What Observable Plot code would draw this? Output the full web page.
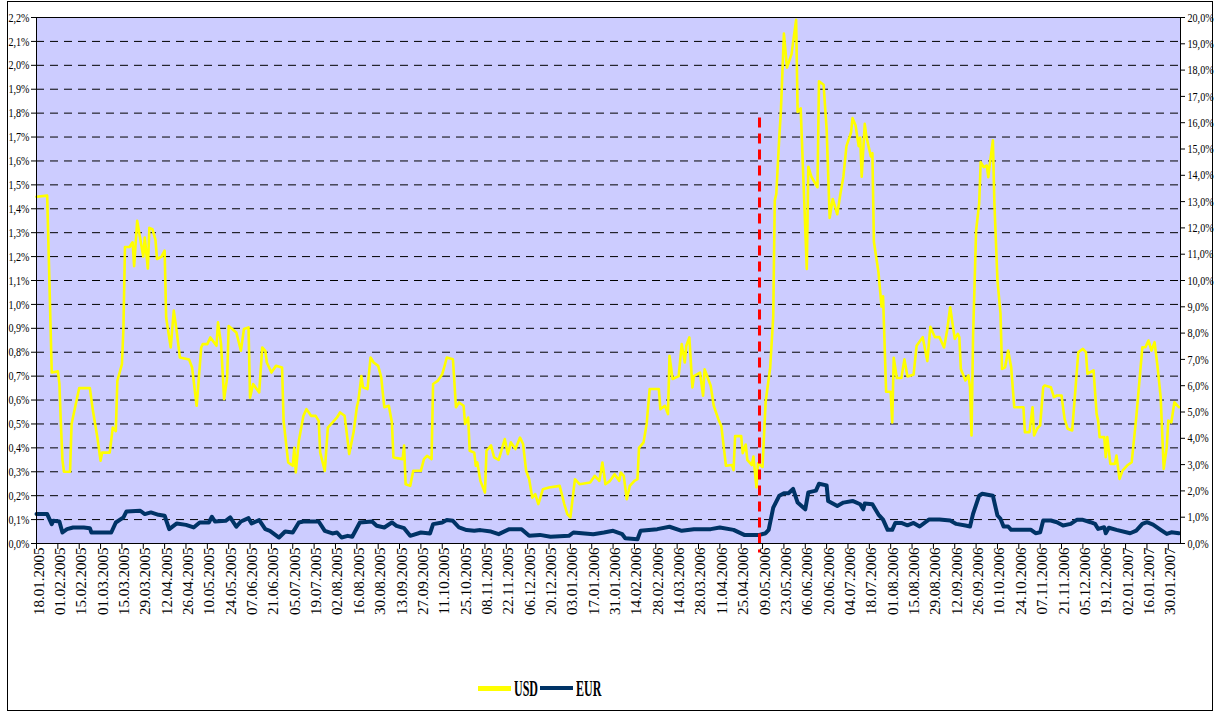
<!DOCTYPE html>
<html><head><meta charset="utf-8">
<script src="https://cdn.jsdelivr.net/npm/d3@7"></script>
<script src="https://cdn.jsdelivr.net/npm/@observablehq/plot@0.6"></script>
<style>
html,body{margin:0;padding:0;background:#fff;}
#wrap{position:relative;width:1218px;height:713px;overflow:hidden;font-family:"Liberation Serif","Times New Roman",serif;}
#frame{position:absolute;left:7px;top:1px;width:1206px;height:710px;border:1px solid #000;box-sizing:border-box;}
#chart{position:absolute;left:0;top:0;}
.lg{position:absolute;}
.lgt{position:absolute;font-weight:bold;font-size:24px;line-height:24px;transform:scaleX(0.5);transform-origin:0 0;white-space:nowrap;color:#000;}
g[aria-label="xlabels"] text{letter-spacing:2.4px;}
</style></head>
<body><div id="wrap"><div id="frame"></div><div id="chart"></div>
<div class="lg" style="left:478px;top:686px;width:33px;height:5px;background:#ffff00"></div>
<div class="lgt" style="left:514px;top:676px">USD</div>
<div class="lg" style="left:540px;top:686px;width:33px;height:4px;background:#003366"></div>
<div class="lgt" style="left:576px;top:676px">EUR</div>
</div>
<script>
const seriesNames = ["USD", "EUR"];
const usd = [
["2005-01-18",1.45],["2005-01-25",1.455],["2005-01-28",0.715],["2005-02-01",0.72],["2005-02-02",0.67],["2005-02-03",0.50],["2005-02-04",0.35],["2005-02-05",0.30],["2005-02-09",0.30],["2005-02-10",0.50],["2005-02-11",0.53],["2005-02-15",0.65],["2005-02-22",0.65],["2005-02-24",0.555],["2005-02-27",0.44],["2005-03-01",0.346],["2005-03-02",0.38],["2005-03-07",0.38],["2005-03-09",0.485],["2005-03-11",0.47],["2005-03-12",0.68],["2005-03-15",0.75],["2005-03-16",0.90],["2005-03-17",1.24],["2005-03-20",1.24],["2005-03-22",1.26],["2005-03-23",1.16],["2005-03-25",1.35],["2005-03-29",1.20],["2005-03-30",1.28],["2005-04-01",1.15],["2005-04-02",1.32],["2005-04-04",1.315],["2005-04-06",1.27],["2005-04-07",1.19],["2005-04-10",1.20],["2005-04-12",1.225],["2005-04-13",0.945],["2005-04-16",0.82],["2005-04-18",0.974],["2005-04-20",0.883],["2005-04-22",0.778],["2005-04-28",0.77],["2005-04-30",0.736],["2005-05-03",0.576],["2005-05-06",0.82],["2005-05-07",0.834],["2005-05-10",0.834],["2005-05-12",0.862],["2005-05-16",0.827],["2005-05-17",0.925],["2005-05-19",0.834],["2005-05-21",0.604],["2005-05-23",0.695],["2005-05-24",0.91],["2005-05-29",0.883],["2005-06-01",0.806],["2005-06-03",0.897],["2005-06-06",0.904],["2005-06-07",0.61],["2005-06-09",0.667],["2005-06-13",0.632],["2005-06-15",0.82],["2005-06-17",0.806],["2005-06-18",0.757],["2005-06-21",0.715],["2005-06-24",0.743],["2005-06-28",0.736],["2005-06-29",0.513],["2005-07-02",0.339],["2005-07-05",0.325],["2005-07-06",0.40],["2005-07-07",0.297],["2005-07-09",0.43],["2005-07-12",0.534],["2005-07-14",0.562],["2005-07-17",0.534],["2005-07-20",0.534],["2005-07-22",0.513],["2005-07-23",0.38],["2005-07-26",0.304],["2005-07-28",0.485],["2005-07-31",0.506],["2005-08-03",0.527],["2005-08-05",0.548],["2005-08-08",0.534],["2005-08-10",0.43],["2005-08-11",0.374],["2005-08-14",0.47],["2005-08-16",0.57],["2005-08-17",0.597],["2005-08-19",0.70],["2005-08-20",0.653],["2005-08-23",0.646],["2005-08-25",0.778],["2005-08-27",0.757],["2005-08-30",0.743],["2005-09-01",0.695],["2005-09-03",0.57],["2005-09-06",0.576],["2005-09-08",0.506],["2005-09-09",0.36],["2005-09-15",0.353],["2005-09-16",0.41],["2005-09-17",0.248],["2005-09-20",0.241],["2005-09-22",0.304],["2005-09-27",0.304],["2005-09-29",0.353],["2005-10-01",0.367],["2005-10-04",0.353],["2005-10-05",0.667],["2005-10-08",0.68],["2005-10-11",0.708],["2005-10-12",0.73],["2005-10-14",0.778],["2005-10-18",0.771],["2005-10-20",0.57],["2005-10-22",0.59],["2005-10-25",0.576],["2005-10-26",0.50],["2005-10-28",0.527],["2005-10-29",0.388],["2005-11-01",0.38],["2005-11-02",0.325],["2005-11-03",0.339],["2005-11-05",0.262],["2005-11-08",0.213],["2005-11-09",0.388],["2005-11-12",0.41],["2005-11-14",0.36],["2005-11-17",0.35],["2005-11-21",0.437],["2005-11-23",0.374],["2005-11-25",0.423],["2005-11-28",0.395],["2005-12-01",0.443],["2005-12-03",0.416],["2005-12-05",0.304],["2005-12-07",0.269],["2005-12-09",0.192],["2005-12-11",0.206],["2005-12-13",0.165],["2005-12-16",0.227],["2005-12-20",0.234],["2005-12-27",0.241],["2005-12-30",0.165],
["2006-01-01",0.123],["2006-01-03",0.109],["2006-01-06",0.269],["2006-01-09",0.248],["2006-01-16",0.255],["2006-01-19",0.283],["2006-01-22",0.262],["2006-01-24",0.339],["2006-01-26",0.248],["2006-01-29",0.262],["2006-02-01",0.29],["2006-02-04",0.262],["2006-02-05",0.297],["2006-02-07",0.283],["2006-02-09",0.185],["2006-02-11",0.241],["2006-02-14",0.262],["2006-02-16",0.269],["2006-02-17",0.40],["2006-02-20",0.423],["2006-02-22",0.50],["2006-02-24",0.646],["2006-03-02",0.646],["2006-03-03",0.562],["2006-03-06",0.576],["2006-03-08",0.541],["2006-03-09",0.785],["2006-03-11",0.688],["2006-03-15",0.70],["2006-03-17",0.834],["2006-03-19",0.757],["2006-03-20",0.827],["2006-03-22",0.862],["2006-03-24",0.653],["2006-03-25",0.70],["2006-03-29",0.715],["2006-03-31",0.618],["2006-04-01",0.729],["2006-04-05",0.66],["2006-04-07",0.576],["2006-04-10",0.52],["2006-04-12",0.49],["2006-04-15",0.325],["2006-04-19",0.328],["2006-04-20",0.307],["2006-04-21",0.449],["2006-04-25",0.449],["2006-04-26",0.378],["2006-04-28",0.414],["2006-04-29",0.35],["2006-05-02",0.328],["2006-05-03",0.364],["2006-05-05",0.235],["2006-05-06",0.335],["2006-05-09",0.32],["2006-05-11",0.592],["2006-05-14",0.735],["2006-05-16",0.949],["2006-05-17",1.434],["2006-05-18",1.462],["2006-05-20",1.705],["2006-05-21",1.805],["2006-05-23",2.133],["2006-05-25",1.99],["2006-05-28",2.047],["2006-05-31",2.19],["2006-06-01",1.805],["2006-06-03",1.82],["2006-06-07",1.148],["2006-06-08",1.576],["2006-06-10",1.534],["2006-06-14",1.49],["2006-06-15",1.933],["2006-06-18",1.919],["2006-06-20",1.733],["2006-06-22",1.362],["2006-06-24",1.441],["2006-06-27",1.377],["2006-06-29",1.462],["2006-07-01",1.534],["2006-07-03",1.662],["2006-07-06",1.719],["2006-07-07",1.779],["2006-07-09",1.748],["2006-07-11",1.662],["2006-07-12",1.698],["2006-07-13",1.534],["2006-07-15",1.755],["2006-07-16",1.705],["2006-07-19",1.619],["2006-07-20",1.633],["2006-07-21",1.262],["2006-07-24",1.134],["2006-07-26",0.991],["2006-07-27",1.034],["2006-07-29",0.635],["2006-08-01",0.635],["2006-08-02",0.506],["2006-08-03",0.777],["2006-08-05",0.692],["2006-08-08",0.692],["2006-08-10",0.77],["2006-08-12",0.699],["2006-08-16",0.706],["2006-08-18",0.827],["2006-08-22",0.863],["2006-08-25",0.763],["2006-08-27",0.906],["2006-08-30",0.863],["2006-09-02",0.863],["2006-09-05",0.82],["2006-09-07",0.891],["2006-09-09",0.988],["2006-09-12",0.856],["2006-09-14",0.877],["2006-09-15",0.863],["2006-09-16",0.73],["2006-09-19",0.682],["2006-09-21",0.703],["2006-09-22",0.654],["2006-09-23",0.452],["2006-09-24",0.863],["2006-09-26",1.309],["2006-09-28",1.421],["2006-09-29",1.595],["2006-10-01",1.574],["2006-10-03",1.581],["2006-10-04",1.532],["2006-10-05",1.588],["2006-10-07",1.686],["2006-10-08",1.421],["2006-10-10",1.10],["2006-10-12",0.961],["2006-10-13",0.73],["2006-10-15",0.737],["2006-10-17",0.807],["2006-10-19",0.737],["2006-10-21",0.57],["2006-10-27",0.57],["2006-10-28",0.466],["2006-10-31",0.466],["2006-11-02",0.57],["2006-11-03",0.452],["2006-11-05",0.48],["2006-11-07",0.494],["2006-11-09",0.654],["2006-11-10",0.661],["2006-11-14",0.654],["2006-11-16",0.612],["2006-11-18",0.619],["2006-11-21",0.619],["2006-11-23",0.521],["2006-11-25",0.48],["2006-11-28",0.473],["2006-12-02",0.80],["2006-12-05",0.814],["2006-12-07",0.80],["2006-12-08",0.71],["2006-12-12",0.724],["2006-12-14",0.542],["2006-12-15",0.514],["2006-12-16",0.445],["2006-12-19",0.445],["2006-12-20",0.361],["2006-12-21",0.445],["2006-12-23",0.333],["2006-12-26",0.333],["2006-12-27",0.368],["2006-12-29",0.27],["2006-12-31",0.305],
["2007-01-03",0.326],["2007-01-06",0.34],["2007-01-09",0.528],["2007-01-13",0.821],["2007-01-15",0.821],["2007-01-17",0.849],["2007-01-19",0.807],["2007-01-21",0.842],["2007-01-23",0.737],["2007-01-25",0.612],["2007-01-27",0.312],["2007-01-29",0.403],["2007-01-30",0.514],["2007-02-01",0.507],["2007-02-03",0.591],["2007-02-05",0.577],["2007-02-06",0.57]
];
const eur = [
["2005-01-18",0.123],["2005-01-25",0.123],["2005-01-28",0.081],["2005-01-29",0.095],["2005-02-02",0.092],["2005-02-04",0.046],["2005-02-07",0.06],["2005-02-11",0.067],["2005-02-18",0.067],["2005-02-22",0.064],["2005-02-23",0.046],["2005-03-08",0.046],["2005-03-11",0.088],["2005-03-16",0.109],["2005-03-18",0.134],["2005-03-27",0.137],["2005-03-30",0.123],["2005-04-03",0.13],["2005-04-08",0.12],["2005-04-12",0.116],["2005-04-15",0.06],["2005-04-20",0.084],["2005-04-26",0.078],["2005-05-01",0.067],["2005-05-05",0.088],["2005-05-11",0.088],["2005-05-13",0.112],["2005-05-15",0.092],["2005-05-22",0.095],["2005-05-25",0.109],["2005-05-29",0.07],["2005-06-01",0.092],["2005-06-06",0.106],["2005-06-08",0.084],["2005-06-13",0.098],["2005-06-17",0.06],["2005-06-20",0.053],["2005-06-26",0.025],["2005-06-30",0.05],["2005-07-05",0.046],["2005-07-09",0.088],["2005-07-12",0.092],["2005-07-22",0.092],["2005-07-26",0.053],["2005-07-31",0.042],["2005-08-03",0.046],["2005-08-06",0.025],["2005-08-10",0.032],["2005-08-13",0.028],["2005-08-18",0.088],["2005-08-26",0.092],["2005-08-29",0.074],["2005-09-03",0.067],["2005-09-08",0.088],["2005-09-11",0.074],["2005-09-16",0.064],["2005-09-20",0.032],["2005-09-27",0.046],["2005-10-03",0.042],["2005-10-05",0.081],["2005-10-11",0.088],["2005-10-14",0.098],["2005-10-18",0.095],["2005-10-22",0.067],["2005-10-27",0.056],["2005-11-01",0.053],["2005-11-05",0.056],["2005-11-12",0.05],["2005-11-17",0.039],["2005-11-24",0.06],["2005-12-02",0.06],["2005-12-07",0.032],["2005-12-14",0.036],["2005-12-21",0.028],
["2006-01-02",0.032],["2006-01-05",0.046],["2006-01-18",0.039],["2006-01-25",0.046],["2006-01-31",0.053],["2006-02-06",0.039],["2006-02-08",0.022],["2006-02-16",0.018],["2006-02-18",0.053],["2006-03-01",0.06],["2006-03-09",0.07],["2006-03-17",0.053],["2006-03-25",0.06],["2006-04-05",0.06],["2006-04-11",0.067],["2006-04-20",0.057],["2006-04-27",0.036],["2006-05-07",0.036],["2006-05-11",0.043],["2006-05-13",0.057],["2006-05-16",0.15],["2006-05-20",0.20],["2006-05-23",0.21],["2006-05-26",0.21],["2006-05-29",0.228],["2006-06-01",0.171],["2006-06-06",0.143],["2006-06-08",0.214],["2006-06-13",0.221],["2006-06-15",0.25],["2006-06-20",0.243],["2006-06-21",0.178],["2006-06-27",0.157],["2006-07-01",0.171],["2006-07-07",0.178],["2006-07-12",0.164],["2006-07-14",0.143],["2006-07-15",0.167],["2006-07-20",0.164],["2006-07-24",0.121],["2006-07-27",0.10],["2006-07-30",0.057],["2006-08-02",0.057],["2006-08-04",0.086],["2006-08-08",0.086],["2006-08-12",0.076],["2006-08-16",0.086],["2006-08-20",0.071],["2006-08-26",0.10],["2006-09-02",0.10],["2006-09-09",0.096],["2006-09-13",0.082],["2006-09-19",0.075],["2006-09-22",0.071],["2006-09-24",0.124],["2006-09-28",0.20],["2006-09-30",0.208],["2006-10-07",0.20],["2006-10-10",0.117],["2006-10-12",0.103],["2006-10-14",0.071],["2006-10-17",0.071],["2006-10-19",0.057],["2006-11-01",0.057],["2006-11-04",0.043],["2006-11-07",0.047],["2006-11-09",0.096],["2006-11-14",0.096],["2006-11-18",0.089],["2006-11-22",0.075],["2006-11-27",0.082],["2006-12-01",0.099],["2006-12-05",0.099],["2006-12-10",0.089],["2006-12-13",0.082],["2006-12-15",0.061],["2006-12-19",0.068],["2006-12-20",0.043],["2006-12-22",0.066],["2006-12-27",0.057],
["2007-01-05",0.043],["2007-01-09",0.054],["2007-01-13",0.082],["2007-01-16",0.089],["2007-01-20",0.079],["2007-01-25",0.057],["2007-01-29",0.04],["2007-02-01",0.047],["2007-02-06",0.043]
];
const xTickLabels = ["18.01.2005","01.02.2005","15.02.2005","01.03.2005","15.03.2005","29.03.2005","12.04.2005","26.04.2005","10.05.2005","24.05.2005","07.06.2005","21.06.2005","05.07.2005","19.07.2005","02.08.2005","16.08.2005","30.08.2005","13.09.2005","27.09.2005","11.10.2005","25.10.2005","08.11.2005","22.11.2005","06.12.2005","20.12.2005","03.01.2006","17.01.2006","31.01.2006","14.02.2006","28.02.2006","14.03.2006","28.03.2006","11.04.2006","25.04.2006","09.05.2006","23.05.2006","06.06.2006","20.06.2006","04.07.2006","18.07.2006","01.08.2006","15.08.2006","29.08.2006","12.09.2006","26.09.2006","10.10.2006","24.10.2006","07.11.2006","21.11.2006","05.12.2006","19.12.2006","02.01.2007","16.01.2007","30.01.2007"];
const leftTicks = [0,0.1,0.2,0.3,0.4,0.5,0.6,0.7,0.8,0.9,1.0,1.1,1.2,1.3,1.4,1.5,1.6,1.7,1.8,1.9,2.0,2.1,2.2];
const gridTicks = [0.1,0.2,0.3,0.4,0.5,0.6,0.7,0.8,0.9,1.0,1.1,1.2,1.3,1.4,1.5,1.6,1.7,1.8,1.9,2.0,2.1];
const rightTicks = [0,1,2,3,4,5,6,7,8,9,10,11,12,13,14,15,16,17,18,19,20];
const leftMax = 2.2, rightMax = 20;
const xStart = "2005-01-18", xEnd = "2007-02-07";
const marker = [{date: "2006-05-07", top: 1.78, bottom: -0.04}];

const parseISO = d3.utcParse("%Y-%m-%d");
const parseLbl = d3.utcParse("%d.%m.%Y");
const toRows = (arr, name) => arr.map(([d, v]) => ({date: parseISO(d), value: v, series: name}));
const usdRows = toRows(usd, seriesNames[0]);
const eurRows = toRows(eur, seriesNames[1]);
const tickDates = xTickLabels.map(parseLbl);
const fmtLbl = d3.utcFormat("%d.%m.%Y");
const pct = v => d3.format(".1f")(v).replace(".", ",") + "%";
const markerRows = marker.map(m => ({date: parseISO(m.date), top: m.top, bottom: m.bottom}));

const chart = Plot.plot({
  width: 1218, height: 713,
  marginLeft: 36, marginRight: 38, marginTop: 17, marginBottom: 170,
  style: {background: "transparent", fontFamily: "'Liberation Serif', 'Times New Roman', serif", color: "#000"},
  x: {type: "utc", domain: [parseISO(xStart), parseISO(xEnd)]},
  y: {domain: [0, leftMax]},
  marks: [
    Plot.frame({fill: "#ccccff"}),
    Plot.ruleY(gridTicks, {stroke: "#000", strokeWidth: 1, strokeDasharray: "8,6"}),
    Plot.line(usdRows, {x: "date", y: "value", stroke: "#ffff00", strokeWidth: 2.6}),
    Plot.line(eurRows, {x: "date", y: "value", stroke: "#003366", strokeWidth: 4}),
    Plot.ruleX(markerRows, {x: "date", y1: "top", y2: "bottom", stroke: "#ff0000", strokeWidth: 3, strokeDasharray: "10,6"}),
    Plot.frame({stroke: "#000", strokeWidth: 1}),
    Plot.axisY({ticks: leftTicks, tickFormat: pct, tickSize: 5, tickPadding: 2, fontSize: 13, label: null}),
    Plot.axisY({anchor: "right", ticks: rightTicks.map(t => t * leftMax / rightMax), tickFormat: v => pct(v * rightMax / leftMax), tickSize: 4, tickPadding: 3, fontSize: 13, label: null}),
    Plot.axisX({ticks: tickDates, tickSize: 6, tickFormat: () => "", label: null}),
    Plot.text(tickDates, {x: d => d, text: d => fmtLbl(d), frameAnchor: "bottom", rotate: -90, textAnchor: "end", dx: 7, dy: 4, fontSize: 15, ariaLabel: "xlabels"})
  ]
});
document.getElementById("chart").appendChild(chart);

function squeeze(text, sx, sy) {
  let tr = text.getAttribute("transform");
  if (!tr) {
    const x = text.getAttribute("x") || 0, y = text.getAttribute("y") || 0;
    text.removeAttribute("x"); text.removeAttribute("y");
    tr = `translate(${x},${y})`;
  }
  text.setAttribute("transform", tr + ` scale(${sx},${sy})`);
}
chart.querySelectorAll('g[aria-label="y-axis tick label"] text').forEach(t => squeeze(t, 0.78, 1));
chart.querySelectorAll('g[aria-label="xlabels"] text').forEach(t => squeeze(t, 1, 0.7));
</script>
</body></html>
